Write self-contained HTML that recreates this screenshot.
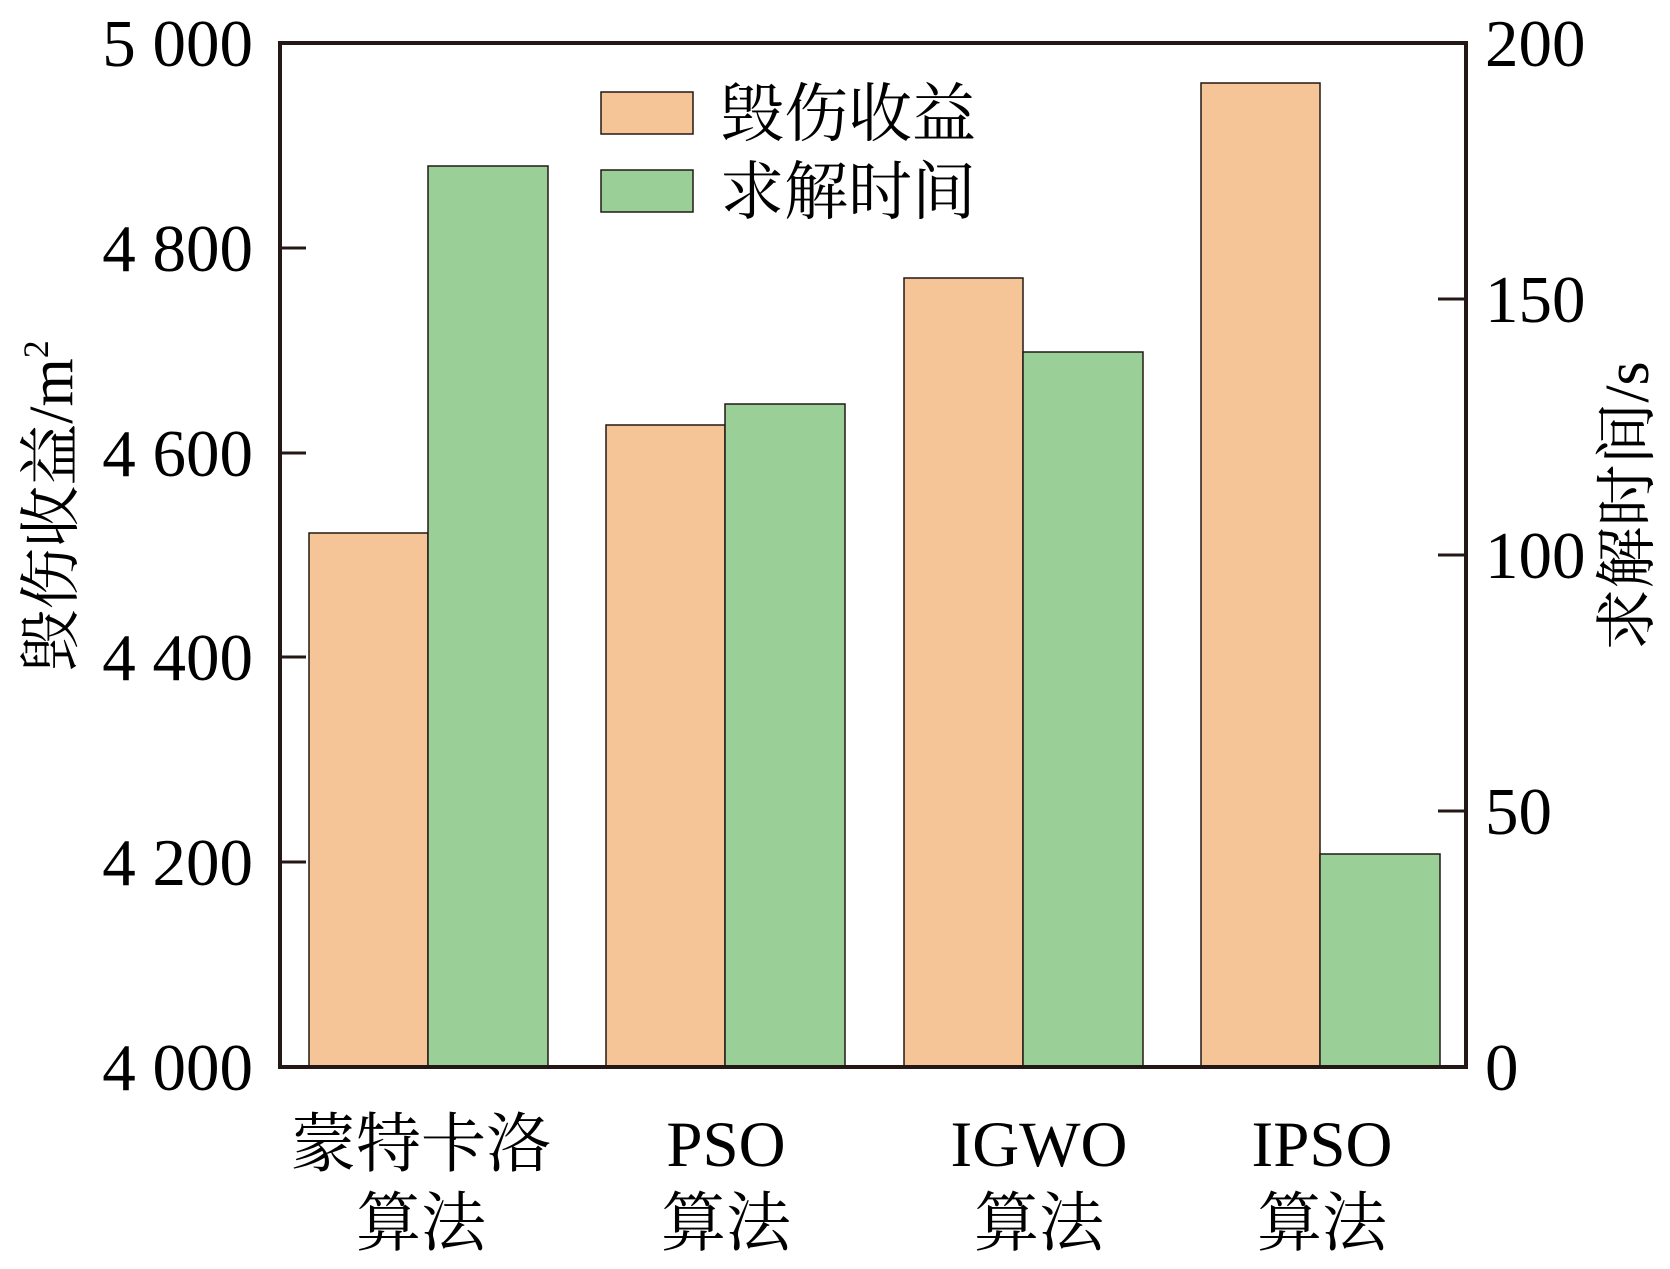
<!DOCTYPE html>
<html><head><meta charset="utf-8"><style>html,body{margin:0;padding:0;background:#fff}</style></head><body>
<svg width="1670" height="1264" xmlns="http://www.w3.org/2000/svg" font-family="'Liberation Serif','Noto Serif CJK SC',serif">
<g stroke="#231815" stroke-width="1.5">
<rect x="309" y="533" width="119" height="534" fill="#F5C497"/>
<rect x="428" y="166" width="120" height="901" fill="#9BCF98"/>
<rect x="606" y="425" width="119" height="642" fill="#F5C497"/>
<rect x="725" y="404" width="120" height="663" fill="#9BCF98"/>
<rect x="904" y="278" width="119" height="789" fill="#F5C497"/>
<rect x="1023" y="352" width="120" height="715" fill="#9BCF98"/>
<rect x="1201" y="83" width="119" height="984" fill="#F5C497"/>
<rect x="1320" y="854" width="120" height="213" fill="#9BCF98"/>
</g>
<rect x="280" y="43" width="1186" height="1024" fill="none" stroke="#231815" stroke-width="4"/>
<g stroke="#231815" stroke-width="3">
<line x1="280" y1="862" x2="306" y2="862"/><line x1="280" y1="657" x2="306" y2="657"/><line x1="280" y1="453" x2="306" y2="453"/><line x1="280" y1="248" x2="306" y2="248"/>
<line x1="1466" y1="811" x2="1438" y2="811"/><line x1="1466" y1="555" x2="1438" y2="555"/><line x1="1466" y1="299" x2="1438" y2="299"/>
</g>
<g font-size="67" text-anchor="end" fill="#000">
<text x="253" y="1090">4 000</text><text x="253" y="885">4 200</text><text x="253" y="680">4 400</text><text x="253" y="476">4 600</text><text x="253" y="271">4 800</text><text x="253" y="66">5 000</text>
</g>
<g font-size="67" fill="#000">
<text x="1485" y="1090">0</text><text x="1485" y="834">50</text><text x="1485" y="578">100</text><text x="1485" y="322">150</text><text x="1485" y="66">200</text>
</g>
<text transform="translate(72,506) rotate(-90)" text-anchor="middle" font-size="62">毁伤收益/m<tspan font-size="36" dy="-24">2</tspan></text>
<text transform="translate(1648,506) rotate(-90)" text-anchor="middle" font-size="62">求解时间/s</text>
<rect x="601" y="92" width="92" height="42" fill="#F5C497" stroke="#231815" stroke-width="1.5"/>
<rect x="601" y="170" width="92" height="42" fill="#9BCF98" stroke="#231815" stroke-width="1.5"/>
<text x="720" y="136" font-size="64">毁伤收益</text>
<text x="720" y="214" font-size="64">求解时间</text>
<g font-size="65" text-anchor="middle">
<text x="421" y="1166">蒙特卡洛</text><text x="421" y="1245">算法</text>
<text x="726" y="1166">PSO</text><text x="726" y="1245">算法</text>
<text x="1039" y="1166">IGWO</text><text x="1039" y="1245">算法</text>
<text x="1322" y="1166">IPSO</text><text x="1322" y="1245">算法</text>
</g>
</svg>
</body></html>
